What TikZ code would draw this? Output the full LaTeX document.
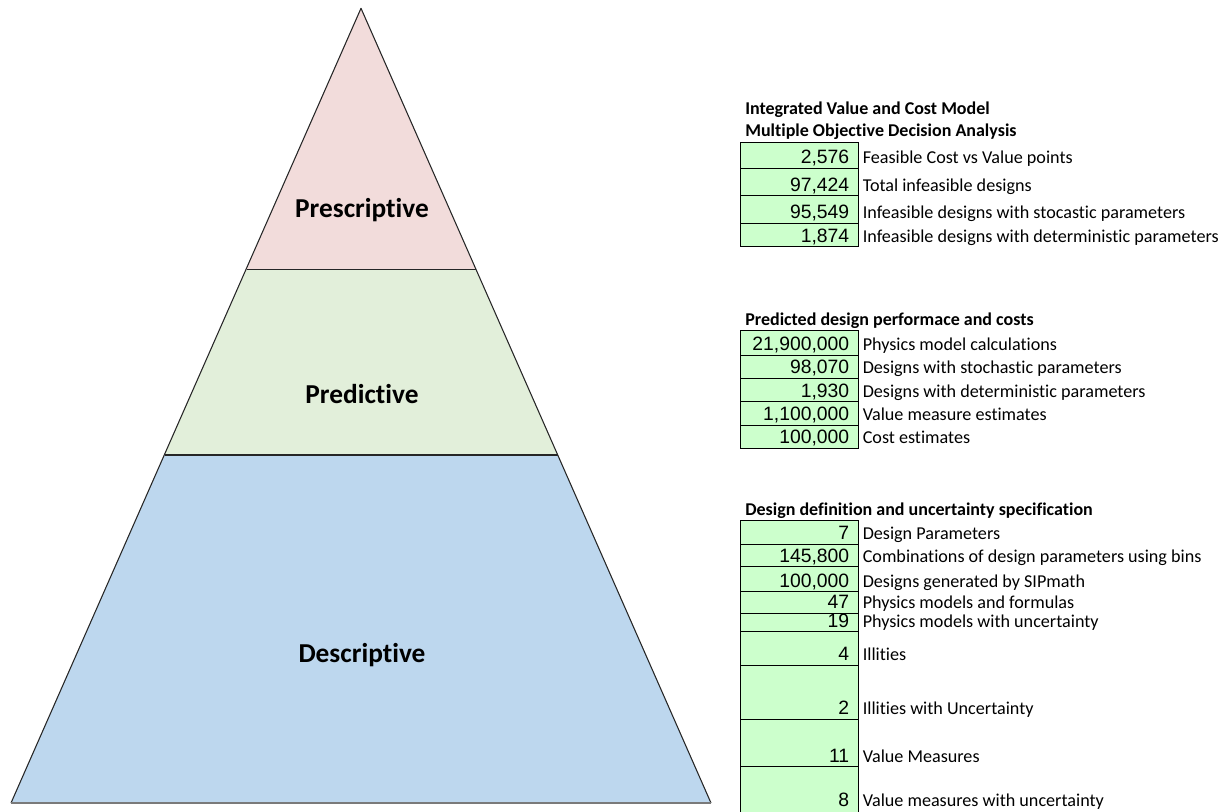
\documentclass[tikz,border=0pt]{standalone}
\usepackage{fontspec}
\setmainfont[Ligatures=NoCommon]{Carlito}
\newfontfamily\numfont{Liberation Sans}

\definecolor{topfill}{HTML}{F2DCDB}
\definecolor{midfill}{HTML}{E2EFDA}
\definecolor{lowfill}{HTML}{BDD7EE}
\definecolor{cellfill}{HTML}{CCFFCC}
\definecolor{basegray}{HTML}{7A7A7A}

\tikzset{
  tier/.style={font=\fontsize{20.5}{24}\selectfont\bfseries, anchor=base, inner sep=0pt},
  edge/.style={draw=black!85, line width=0.8pt, line join=round},
  cellbox/.style={fill=cellfill, draw=black, line width=0.75pt},
  numtext/.style={font=\numfont\fontsize{14.5}{16}\selectfont, anchor=base east, inner sep=0pt},
  labtext/.style={font=\fontsize{13.6}{16}\selectfont, anchor=base west, inner sep=0pt},
  headtext/.style={font=\fontsize{13.5}{16}\selectfont\bfseries, anchor=base west, inner sep=0pt},
}

% one table row: name, top, bottom, number, label
\newcommand\putrow[5]{%
  \path[cellbox] (740.7,#2) rectangle (858.3,#3);
  \node[numtext] (#1n) at (849.5,#3-4.5) {#4};
  \node[labtext] (#1l) at (862.5,#3-4.5) {#5};
}

\begin{document}
\begin{tikzpicture}[x=0.75pt,y=-0.75pt]
\useasboundingbox (0,0) rectangle (1227,811);

% pyramid corners
\coordinate (apex) at (361,8.3);
\coordinate (l1) at (246.5,269.7);
\coordinate (r1) at (475.5,269.7);
\coordinate (l2) at (164.5,455);
\coordinate (r2) at (557.5,455);
\coordinate (bl) at (11,803);
\coordinate (br) at (711,803);

% tiers
\fill[topfill] (apex) -- (r1) -- (l1) -- cycle;
\fill[midfill] (l1) -- (r1) -- (r2) -- (l2) -- cycle;
\fill[lowfill] (l2) -- (r2) -- (br) -- (bl) -- cycle;
\draw[edge] (bl) -- (apex) -- (br);
\draw[edge] (l1) -- (r1);
\draw[edge] (l2) -- (r2);
\draw[basegray, line width=1.5pt] (bl) -- (br);

\node[tier] (presc) at (362,217) {Prescriptive};
\node[tier] (pred)  at (362,403) {Predictive};
\node[tier] (desc)  at (362,662) {Descriptive};

% top table
\node[headtext] (h1a) at (745,114.3) {Integrated Value and Cost Model};
\node[headtext] (h1b) at (745,136.5) {Multiple Objective Decision Analysis};
\putrow{a1}{142.3}{168.3}{2,576}{Feasible Cost vs Value points}
\putrow{a2}{168.3}{195.7}{97,424}{Total infeasible designs}
\putrow{a3}{195.7}{223.3}{95,549}{Infeasible designs with stocastic parameters}
\putrow{a4}{223.3}{246.7}{1,874}{Infeasible designs with deterministic parameters}

% middle table
\node[headtext] (h2) at (745,325) {Predicted design performace and costs};
\putrow{b1}{330.7}{355}{21,900,000}{Physics model calculations}
\putrow{b2}{355}{378.3}{98,070}{Designs with stochastic parameters}
\putrow{b3}{378.3}{401.7}{1,930}{Designs with deterministic parameters}
\putrow{b4}{401.7}{425}{1,100,000}{Value measure estimates}
\putrow{b5}{425}{448.3}{100,000}{Cost estimates}

% bottom table
\node[headtext] (h3) at (745,515) {Design definition and uncertainty specification};
\putrow{c1}{520}{544.3}{7}{Design Parameters}
\putrow{c2}{544.3}{566.7}{145,800}{Combinations of design parameters using bins}
\putrow{c3}{566.7}{591.7}{100,000}{Designs generated by SIPmath}
\putrow{c4}{591.7}{613.3}{47}{Physics models and formulas}
\putrow{c5}{613.3}{631.7}{19}{Physics models with uncertainty}
\putrow{c6}{631.7}{665}{4}{Illities}
\putrow{c7}{665}{719}{2}{Illities with Uncertainty}
\putrow{c8}{719}{766.7}{11}{Value Measures}
% last cell runs off the lower edge
\fill[cellfill] (740.7,766.7) rectangle (858.3,815);
\draw[black, line width=0.75pt] (740.7,815) -- (740.7,766.7) -- (858.3,766.7) -- (858.3,815);
\node[numtext] (c9n) at (849.5,806.7) {8};
\node[labtext] (c9l) at (862.5,806.7) {Value measures with uncertainty};
\end{tikzpicture}
\end{document}
